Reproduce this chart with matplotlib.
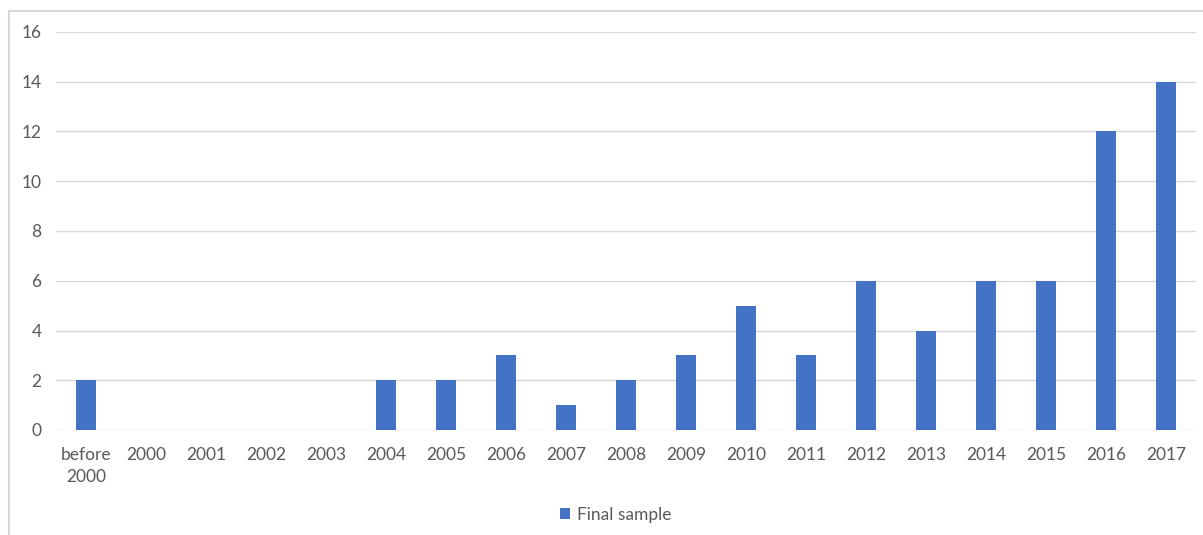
import matplotlib
matplotlib.use("Agg")
import matplotlib.pyplot as plt
from matplotlib.patches import Rectangle, Patch

categories = ["before\n2000", "2000", "2001", "2002", "2003", "2004", "2005", "2006",
              "2007", "2008", "2009", "2010", "2011", "2012", "2013", "2014", "2015",
              "2016", "2017"]
final_sample = [2, 0, 0, 0, 0, 2, 2, 3, 1, 2, 3, 5, 3, 6, 4, 6, 6, 12, 14]
yticks = [0, 2, 4, 6, 8, 10, 12, 14, 16]

W, H = 1203, 535
plt.rcParams['font.family'] = ['Lato', 'DejaVu Sans']
fig = plt.figure(figsize=(W / 100, H / 100), dpi=100)
fig.patch.set_facecolor("white")

# chart frame
fig.patches.append(Rectangle((8.5 / W, -0.05), 1.2, 1 - 11 / H + 0.05,
                             transform=fig.transFigure, fill=False,
                             edgecolor="#D9D9D9", linewidth=1.5))

ax = fig.add_axes([56 / W, 1 - 430 / H, (1196 - 56) / W, (430 - 32) / H])
x = list(range(len(categories)))
ax.bar(x, final_sample, width=0.32, color="#4472C4", zorder=3, label="Final sample")
ax.set_xlim(-0.5, len(categories) - 0.5)
ax.set_ylim(0, 16)
ax.set_yticks(yticks)
ax.set_xticks(x)
ax.set_xticklabels(categories, linespacing=1.45)
ax.grid(axis="y", color="#D9D9D9", linewidth=1, zorder=0)
for s in ax.spines.values():
    s.set_visible(False)
ax.tick_params(axis="both", length=0, labelsize=12.5, colors="#595959")
ax.tick_params(axis="x", pad=12)
ax.tick_params(axis="y", pad=10.5)

fig.legend(handles=[Patch(facecolor="#4472C4", label="Final sample")],
           loc="center", bbox_to_anchor=(616 / W, 1 - 515 / H), frameon=False,
           fontsize=12.5, labelcolor="#595959", handlelength=0.6, handleheight=0.6,
           handletextpad=0.4)

fig.savefig("out.png", dpi=100)
